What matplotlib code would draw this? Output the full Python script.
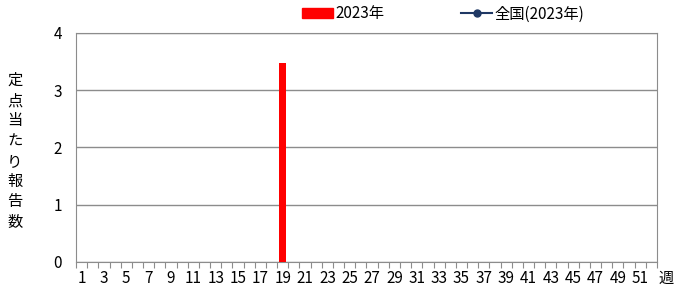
import numpy as np
import matplotlib.pyplot as plt
from matplotlib.lines import Line2D
from matplotlib.patches import Patch
from matplotlib.transforms import offset_copy

plt.rcParams['font.family'] = ['Noto Sans CJK JP', 'DejaVu Sans']

# weekly data
weeks = list(range(1, 53))
values_2023 = [0] * 52
values_2023[18] = 3.47  # week 19
national_2023 = []  # no national line drawn

fig = plt.figure(figsize=(6.75, 2.91), dpi=100)
ax = fig.add_axes([0.1126, 0.0997, 0.8607, 0.7869])

x = np.arange(len(weeks))
ax.bar(x, values_2023, width=0.6, color='#ff0000', zorder=3)
if national_2023:
    ax.plot(x[:len(national_2023)], national_2023, color='#1f3864', marker='o', ms=4)

ax.set_xlim(-0.5, len(weeks) - 0.5)
ax.set_ylim(0, 4)
ax.set_yticks([0, 1, 2, 3, 4])
ax.yaxis.grid(True, color='#8c8c8c', linewidth=1)
ax.set_axisbelow(True)
ax.tick_params(axis='y', length=0, labelsize=11, pad=10)

# category boundary ticks, labels on odd weeks
ax.set_xticks(np.arange(-0.5, len(weeks), 1), minor=False)
ax.set_xticklabels([])
ax.tick_params(axis='x', which='major', length=4, color='#8c8c8c', direction='out')
lbl_trans = offset_copy(ax.get_xaxis_transform(), fig=fig, x=0, y=-6, units='points')
for i, w in enumerate(weeks):
    if w % 2 == 1:
        ax.text(i, 0, str(w), ha='center', va='top', fontsize=11, transform=lbl_trans)

for s in ax.spines.values():
    s.set_color('#8c8c8c')

fig.text(0.998, 0.045, '週', ha='right', va='center', fontsize=11)
fig.text(0.022, 0.48, '\n'.join('定点当たり報告数'), ha='center', va='center',
         fontsize=11, linespacing=1.25)

handles = [Patch(color='#ff0000', label='2023年'),
           Line2D([], [], color='#1f3864', marker='o', ms=5, lw=1.5, label='全国(2023年)')]
fig.legend(handles=handles, loc='center', bbox_to_anchor=(0.657, 0.952), ncol=2,
           frameon=False, fontsize=11, handlelength=2.0, handleheight=0.6,
           columnspacing=5.0, handletextpad=0.2)

fig.savefig('out.png', dpi=100)
